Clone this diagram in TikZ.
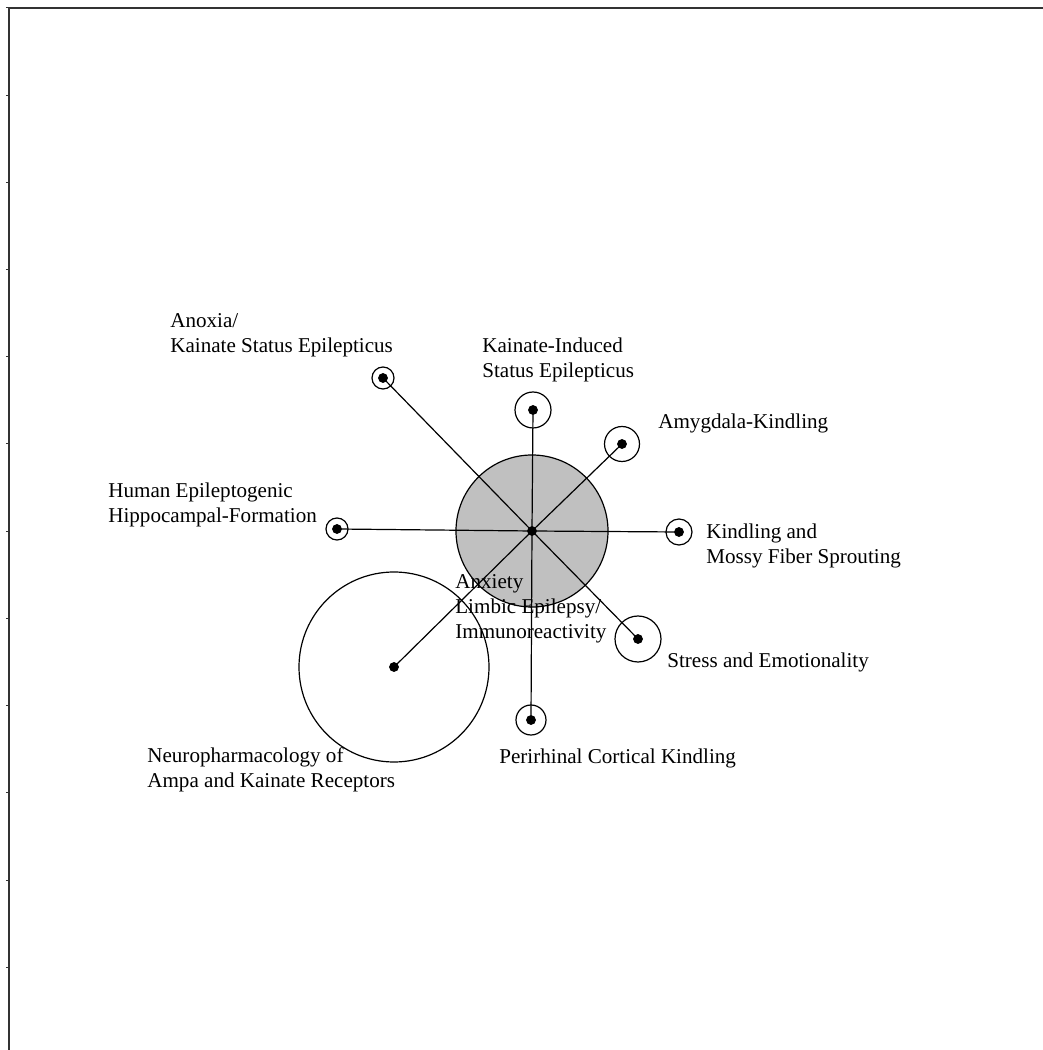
\documentclass[tikz,border=0pt]{standalone}
\usepackage{fontspec}
\setmainfont{Liberation Serif}
\usepackage{tikz}
\usepackage{color}
\usepackage{tkz-graph}

\begin{document}
\begin{tikzpicture}[
  lbl/.style={anchor=base west,inner sep=0pt,font=\fontsize{12pt}{14.2pt}\selectfont},
  ring/.style={line width=0.024cm,draw=black}]
\definecolor{cfr}{rgb}{0.2,0.2,0.2}
\definecolor{cfc}{rgb}{0.753,0.753,0.753}
\definecolor{cv}{rgb}{0.0,0.0,0.0}
\definecolor{cfv}{rgb}{0.0,0.0,0.0}
\definecolor{cedge}{rgb}{0.0,0.0,0.0}
\tikzset{VertexStyle/.style={shape=circle,draw=cv,fill=cfv,minimum size=0.18cm,inner sep=0pt}}
%
\useasboundingbox (0,0) rectangle (20.86,21.0);
% frame with ticks on the left axis
\draw[line width=0.035cm,color=cfr] (0.18,0) -- (0.18,20.84) -- (20.86,20.84);
\foreach \t in {0,...,11}
  \draw[line width=0.02cm,color=cfr] (0.12,{20.84-\t*1.744}) -- (0.18,{20.84-\t*1.744});
%
\node[circle,draw=black,line width=0.024cm,fill=cfc,minimum size=3.04cm,inner sep=0pt] (c0) at (10.64,10.38) {};
%
\Vertex[NoLabel=true,x=10.64cm,y=10.38cm]{v0}
\Vertex[NoLabel=true,x=7.66cm,y=13.44cm]{v1}
\Vertex[NoLabel=true,x=10.66cm,y=12.80cm]{v2}
\Vertex[NoLabel=true,x=12.44cm,y=12.12cm]{v3}
\Vertex[NoLabel=true,x=13.58cm,y=10.36cm]{v4}
\Vertex[NoLabel=true,x=12.76cm,y=8.22cm]{v5}
\Vertex[NoLabel=true,x=10.62cm,y=6.60cm]{v6}
\Vertex[NoLabel=true,x=7.88cm,y=7.66cm]{v7}
\Vertex[NoLabel=true,x=6.74cm,y=10.42cm]{v8}
%
\draw[ring] (v1) circle (0.22cm);
\draw[ring] (v2) circle (0.36cm);
\draw[ring] (v3) circle (0.35cm);
\draw[ring] (v4) circle (0.26cm);
\draw[ring] (v5) circle (0.46cm);
\draw[ring] (v6) circle (0.30cm);
\draw[ring] (v7) circle (1.90cm);
\draw[ring] (v8) circle (0.22cm);
%
\Edge[lw=0.024cm,style={color=cedge,},](v0)(v1)
\Edge[lw=0.024cm,style={color=cedge,},](v0)(v2)
\Edge[lw=0.024cm,style={color=cedge,},](v0)(v3)
\Edge[lw=0.024cm,style={color=cedge,},](v0)(v4)
\Edge[lw=0.024cm,style={color=cedge,},](v0)(v5)
\Edge[lw=0.024cm,style={color=cedge,},](v0)(v6)
\Edge[lw=0.024cm,style={color=cedge,},](v0)(v7)
\Edge[lw=0.024cm,style={color=cedge,},](v0)(v8)
%
\node[lbl] (l0) at (9.10,9.22) {\begin{tabular}[t]{@{}l@{}}Anxiety\\Limbic Epilepsy/\\Immunoreactivity\end{tabular}};
\node[lbl] (l1) at (3.40,14.44) {\begin{tabular}[t]{@{}l@{}}Anoxia/\\Kainate Status Epilepticus\end{tabular}};
\node[lbl] (l2) at (9.64,13.94) {\begin{tabular}[t]{@{}l@{}}Kainate-Induced\\Status Epilepticus\end{tabular}};
\node[lbl] (l3) at (13.16,12.42) {Amygdala-Kindling};
\node[lbl] (l4) at (14.12,10.22) {\begin{tabular}[t]{@{}l@{}}Kindling and\\Mossy Fiber Sprouting\end{tabular}};
\node[lbl] (l5) at (13.34,7.64) {Stress and Emotionality};
\node[lbl] (l6) at (9.98,5.72) {Perirhinal Cortical Kindling};
\node[lbl] (l7) at (2.94,5.74) {\begin{tabular}[t]{@{}l@{}}Neuropharmacology of\\Ampa and Kainate Receptors\end{tabular}};
\node[lbl] (l8) at (2.16,11.04) {\begin{tabular}[t]{@{}l@{}}Human Epileptogenic\\Hippocampal-Formation\end{tabular}};
%
\end{tikzpicture}
\end{document}
